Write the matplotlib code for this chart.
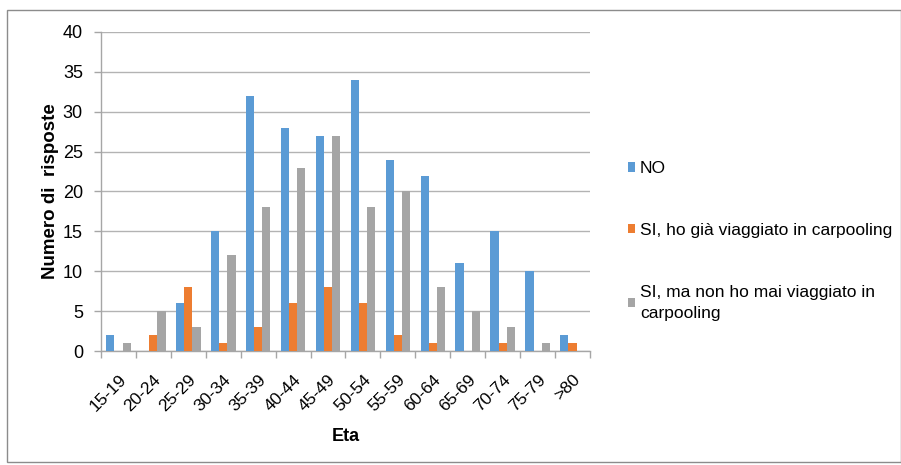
import matplotlib
matplotlib.use("Agg")
import matplotlib.pyplot as plt
import numpy as np
from matplotlib.patches import Rectangle

plt.rcParams['font.family'] = ['Liberation Sans', 'DejaVu Sans']

categories = ["15-19", "20-24", "25-29", "30-34", "35-39", "40-44", "45-49",
              "50-54", "55-59", "60-64", "65-69", "70-74", "75-79", ">80"]
no_vals = [2, 0, 6, 15, 32, 28, 27, 34, 24, 22, 11, 15, 10, 2]
si_gia_vals = [0, 2, 8, 1, 3, 6, 8, 6, 2, 1, 0, 1, 0, 1]
si_mai_vals = [1, 5, 3, 12, 18, 23, 27, 18, 20, 8, 5, 3, 1, 0]
series_labels = ["NO", "SI, ho già viaggiato in carpooling",
                 "SI, ma non ho mai viaggiato in\ncarpooling"]
colors = ["#5B9BD5", "#ED7D31", "#A5A5A5"]

W, H = 901, 465
fig = plt.figure(figsize=(W / 100, H / 100), dpi=100)
ax = fig.add_axes([101 / W, 1 - 351 / H, (590 - 101) / W, (351 - 32) / H])

x = np.arange(len(categories))
bw = 0.235
for i, (vals, lab, c) in enumerate(zip([no_vals, si_gia_vals, si_mai_vals], series_labels, colors)):
    ax.bar(x + (i - 1) * bw, vals, width=bw, color=c, label=lab, zorder=3)

ax.set_xlim(-0.5, len(categories) - 0.5)
ax.set_ylim(0, 40)
ax.set_yticks(range(0, 41, 5))
ax.yaxis.grid(True, color="#b3b3b3", linewidth=1.0, zorder=0)
ax.set_axisbelow(True)

ax.set_xticks(x)
ax.set_xticklabels(categories, rotation=45, ha="right", rotation_mode="anchor", fontsize=12.5)
ax.set_xticks(np.arange(-0.5, len(categories), 1), minor=True)
ax.tick_params(axis="x", which="major", length=0, pad=15)
ax.tick_params(axis="x", which="minor", length=5, color="#a6a6a6", width=1)
ax.tick_params(axis="y", length=5, color="#a6a6a6", width=1, labelsize=13, pad=8)

for s in ["top", "right"]:
    ax.spines[s].set_visible(False)
for s in ["left", "bottom"]:
    ax.spines[s].set_color("#a6a6a6")
    ax.spines[s].set_linewidth(1.0)

ax.set_ylabel("Numero di  risposte", fontsize=13.5, fontweight="bold", labelpad=3)
ax.set_xlabel("Eta", fontsize=13, fontweight="bold", labelpad=10)

handles, labels = ax.get_legend_handles_labels()
leg = fig.legend(handles, labels, loc="center left", bbox_to_anchor=(612 / W, 1 - 241 / H),
                 frameon=False, fontsize=12.5, handlelength=0.45, handleheight=0.45,
                 handletextpad=0.25, labelspacing=2.7)
for t in leg.get_texts():
    t.set_linespacing(1.5)

fig.patches.append(Rectangle((7 / W, 3 / H), (W - 7) / W, (462 - 10) / H, transform=fig.transFigure,
                             fill=False, edgecolor="#8c8c8c", linewidth=1.0))

fig.savefig("out.png", dpi=100)
